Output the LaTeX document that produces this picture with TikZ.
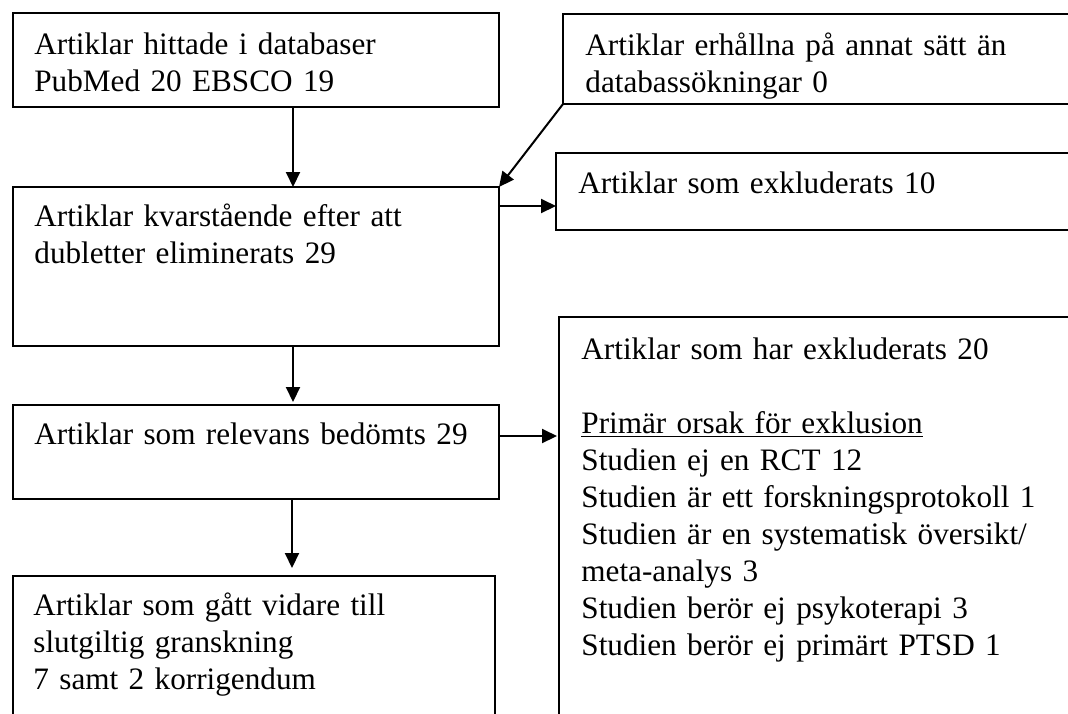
\documentclass[tikz,border=0pt]{standalone}
\usepackage{fontspec}
\setmainfont{Liberation Serif}
\usetikzlibrary{arrows.meta,calc}
\begin{document}
\begin{tikzpicture}[x=0.5pt,y=-0.5pt,
  box/.style={draw=black, line width=1pt, rectangle, inner sep=0pt, outer sep=0pt, anchor=north west},
  txt/.style={anchor=base west, inner sep=0pt, align=left, text width=280pt, font=\fontsize{15.6}{18.5}\selectfont},
  arr/.style={draw=black, line width=1pt, -{Triangle[length=7.5pt,width=7pt]}}]
\fill[white] (0,0) rectangle (1068,713);
\useasboundingbox (0,0) rectangle (1068,713);
\clip (0,0) rectangle (1068,713);
% boxes
\node[box, minimum width=243pt, minimum height=47pt] (b1) at (13,13) {};
\node[box, minimum width=243pt, minimum height=79.5pt] (b2) at (13,187) {};
\node[box, minimum width=258.5pt, minimum height=45pt] (b3) at (563,14) {};
\node[box, minimum width=262pt, minimum height=38.5pt] (e10) at (556,153) {};
\node[box, minimum width=243pt, minimum height=47pt] (b4) at (13,405) {};
\node[box, minimum width=260.5pt, minimum height=201.5pt] (big) at (559,317) {};
\node[box, minimum width=241pt, minimum height=72pt] (b5) at (13,576) {};
% texts
\node[txt] (t1) at ($(b1.north west)+(21,41)$) {Artiklar hittade i databaser\\PubMed 20 EBSCO 19};
\node[txt] (t2) at ($(b2.north west)+(21,39)$) {Artiklar kvarstående efter att\\dubletter eliminerats 29};
\node[txt] (t3) at ($(b3.north west)+(22,41)$) {Artiklar erhållna på annat sätt än\\databassökningar 0};
\node[txt] (t10) at ($(e10.north west)+(22,40)$) {Artiklar som exkluderats 10};
\node[txt] (t4) at ($(b4.north west)+(21,39)$) {Artiklar som relevans bedömts 29};
\node[txt] (tbig) at ($(big.north west)+(22,42)$) {Artiklar som har exkluderats 20\\[18.5pt]
\underline{Primär orsak för exklusion}\\
Studien ej en RCT 12\\
Studien är ett forskningsprotokoll 1\\
Studien är en systematisk översikt/\\
meta-analys 3\\
Studien berör ej psykoterapi 3\\
Studien berör ej primärt PTSD 1};
\node[txt] (t5) at ($(b5.north west)+(20,39)$) {Artiklar som gått vidare till\\slutgiltig granskning\\7 samt 2 korrigendum};
% helper coordinates
\coordinate (cx) at (293,0);
\coordinate (cx2) at (292,0);
\coordinate (ya) at (0,206);
\coordinate (yb) at (0,436);
% connectors
\draw[arr] (b1.south -| cx) -- (b2.north -| cx);
\draw[arr, shorten >=1.5pt] (b2.south -| cx) -- (b4.north -| cx);
\draw[arr, shorten >=4pt] (b4.south -| cx2) -- (b5.north -| cx2);
\draw[arr] (b3.south west) -- (b2.north east);
\draw[arr] (b2.east |- ya) -- (e10.west |- ya);
\draw[arr, shorten >=1pt] (b4.east |- yb) -- (big.west |- yb);
\end{tikzpicture}
\end{document}
